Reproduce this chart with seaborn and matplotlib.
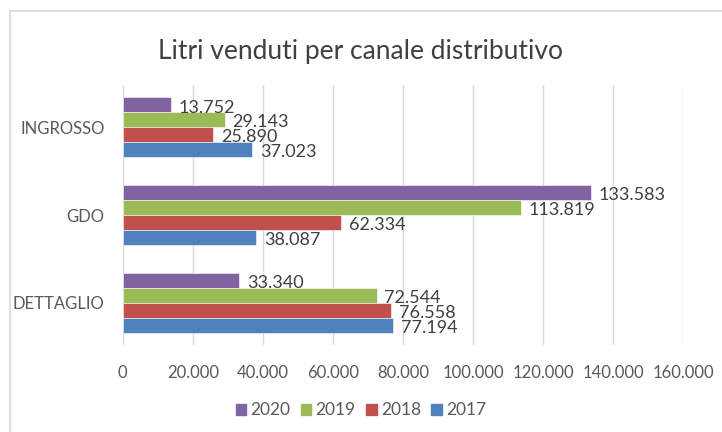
import pandas as pd
import matplotlib.pyplot as plt
import matplotlib.patches as mpatches
import seaborn as sns

# data
canali = ['INGROSSO', 'GDO', 'DETTAGLIO']
anni = ['2020', '2019', '2018', '2017']
litri_2020 = [13752, 133583, 33340]
litri_2019 = [29143, 113819, 72544]
litri_2018 = [25890, 62334, 76558]
litri_2017 = [37023, 38087, 77194]
x_ticks = [0, 20000, 40000, 60000, 80000, 100000, 120000, 140000, 160000]

colori = {'2020': '#8064A2', '2019': '#9BBB59', '2018': '#C0504D', '2017': '#4F81BD'}

serie = {'2020': litri_2020, '2019': litri_2019, '2018': litri_2018, '2017': litri_2017}
rows = []
for anno in anni:
    for canale, v in zip(canali, serie[anno]):
        rows.append({'canale': canale, 'anno': anno, 'litri': v})
df = pd.DataFrame(rows)


def fmt_it(v):
    return f"{int(v):,}".replace(',', '.')


sns.set_theme(style="white")
plt.rcParams['font.family'] = ['Lato', 'DejaVu Sans']

fig = plt.figure(figsize=(7.22, 4.32), dpi=100)
ax = fig.add_axes([0.170, 0.201, 0.776, 0.602])

sns.barplot(data=df, y='canale', x='litri', hue='anno', order=canali,
            hue_order=anni, palette=colori, orient='h', width=0.68,
            saturation=1, edgecolor='white', linewidth=0.4, ax=ax, legend=False)

grey = '#595959'
for cont in ax.containers:
    for bar in cont:
        w = bar.get_width()
        yc = bar.get_y() + bar.get_height() / 2
        ax.text(w + 2200, yc + 0.03, fmt_it(w), va='center', ha='left',
                fontsize=13, color='#404040')

ax.set_xlim(0, 160000)
ax.set_ylim(2.48, -0.48)
ax.set_xticks(x_ticks)
ax.set_xticklabels([fmt_it(t) for t in x_ticks], fontsize=12, color=grey)
ax.tick_params(axis='y', labelsize=12, labelcolor=grey, length=0, pad=13)
ax.tick_params(axis='x', length=0, pad=14)
ax.set_xlabel('')
ax.set_ylabel('')
ax.grid(axis='x', color='#d9d9d9', linewidth=1)
ax.set_axisbelow(True)
for s in ax.spines.values():
    s.set_visible(False)

fig.suptitle('Litri venduti per canale distributivo', x=0.5, y=0.91,
             fontsize=19, color='#404040')

handles = [mpatches.Patch(color=colori[a], label=a) for a in anni]
fig.legend(handles=handles, loc='center', bbox_to_anchor=(0.5, 0.05), ncol=4,
           frameon=False, fontsize=12.5, handlelength=0.6, handleheight=0.6,
           handletextpad=0.25, columnspacing=0.6, labelcolor=grey)

# light chart-area border as in the source
fig.patches.append(mpatches.Rectangle((0.014, -0.01), 1.0, 0.985,
                                      transform=fig.transFigure, fill=False,
                                      edgecolor='#d9d9d9', linewidth=1.2))

fig.savefig('out.png', dpi=100)
